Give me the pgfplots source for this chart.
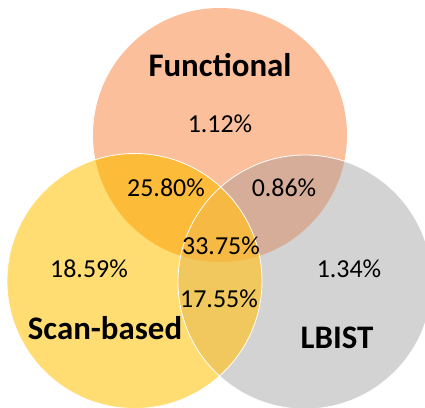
\documentclass[border=0pt]{standalone}
\usepackage{pgfplots}
\pgfplotsset{compat=1.18}
\usepackage{pgfplotstable}
\usepackage{fontspec}
\setmainfont{Carlito}

\definecolor{cF}{HTML}{FBBF9B}
\definecolor{cS}{HTML}{FFDD72}
\definecolor{cL}{HTML}{D3D3D3}
\definecolor{cFS}{HTML}{FDBB3A}
\definecolor{cFL}{HTML}{D6AD99}
\definecolor{cSL}{HTML}{F0C85E}
\definecolor{cFSL}{HTML}{F5B944}

\pgfplotstableread{
x y label
220 275 1.12
166 211 25.80
284 211 0.86
221 153 33.75
89 130 18.59
349 130 1.34
219 100 17.55
}\pcts

\pgfplotstableread{
x y label
220 331 Functional
105 68 Scan-based
337 59 LBIST
}\names

\def\F{(axis cs:220,273) circle[radius=127]}
\def\S{(axis cs:134.5,127) circle[radius=127.5]}
\def\L{(axis cs:305,126) circle[radius=127]}

\begin{document}
\begin{tikzpicture}
\begin{axis}[
  hide axis, scale only axis,
  width=425bp, height=408bp,
  xmin=0, xmax=425, ymin=0, ymax=408,
]
\fill[cF] \F;
\fill[cS] \S;
\fill[cL] \L;
\begin{scope}
  \clip \F;
  \fill[cFS] \S;
  \fill[cFL] \L;
\end{scope}
\begin{scope}
  \clip \S;
  \fill[cSL] \L;
\end{scope}
\begin{scope}
  \clip \F;
  \clip \S;
  \fill[cFSL] \L;
\end{scope}
\draw[white, line width=0.8pt] \S;
\draw[white, line width=0.8pt] \L;

\addplot[only marks, mark size=0pt, mark options={draw=none,fill=none},
  point meta=explicit symbolic,
  nodes near coords={\pgfplotspointmeta\%},
  every node near coord/.append style={anchor=base, inner sep=0pt, font=\fontsize{26}{31}\selectfont, text=black}]
  table[x=x, y=y, meta=label] {\pcts};

\addplot[only marks, mark size=0pt, mark options={draw=none,fill=none},
  point meta=explicit symbolic,
  nodes near coords,
  every node near coord/.append style={anchor=base, inner sep=0pt, font=\bfseries\fontsize{33}{39}\selectfont, text=black}]
  table[x=x, y=y, meta=label] {\names};
\end{axis}
\pgfresetboundingbox
\path (current axis.south west) rectangle (current axis.north east);
\end{tikzpicture}
\end{document}
